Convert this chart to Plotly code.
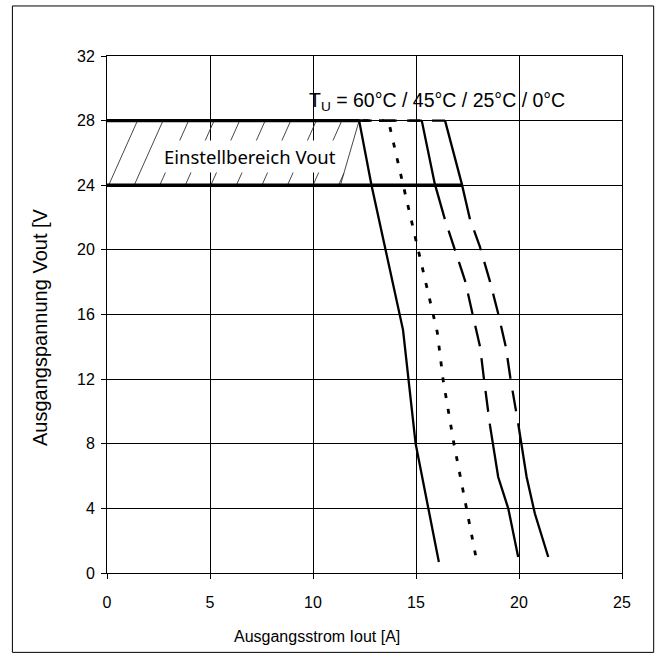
import plotly.graph_objects as go

# ---- data ----
# output current Iout [A] vs output voltage Vout [V] for four ambient temperatures
I_60 = [0, 12.24, 12.84, 14.37, 14.98, 16.11]
U_60 = [28, 28, 24.0, 15.05, 8.02, 0.68]

I_45 = [0, 13.66, 14.38, 15.11, 16.03, 16.32, 16.84, 17.94]
U_45 = [28, 28, 24.0, 20.0, 14.92, 11.93, 8.01, 0.79]

I_25 = [0, 15.28, 15.91, 16.40, 16.89, 17.38, 17.75, 18.11, 18.30, 18.59, 18.99, 19.48, 19.96]
U_25 = [28, 28, 24.1, 21.9, 20.0, 18.1, 16.0, 14.0, 12.0, 9.15, 5.94, 3.99, 0.99]

I_0 = [0, 16.41, 17.22, 17.62, 18.10, 18.59, 18.99, 19.36, 19.59, 19.96, 20.37, 20.77, 21.42]
U_0 = [28, 28, 24.1, 21.9, 20.2, 18.05, 16.06, 14.0, 12.0, 9.25, 5.94, 3.68, 0.99]

# adjustment range (Einstellbereich)
range_U = [24, 28]
range_I_end = [17.22, 12.24]          # end of the 24 V line, end of the 28 V line
hatch_I = [0, 11.33, 12.24, 0]
hatch_U = [24, 24, 28, 28]
hatch_first = 0.08
hatch_step = 1.24
hatch_shift = 1.4

x_ticks = [0, 5, 10, 15, 20, 25]
y_ticks = [0, 4, 8, 12, 16, 20, 24, 28, 32]

label_temp = "T<sub>U</sub> = 60°C / 45°C / 25°C / 0°C"
label_range = "Einstellbereich Vout"
x_title = "Ausgangsstrom Iout [A]"
y_title = "Ausgangspannung Vout [V"

# ---- figure ----
fig = go.Figure()

# hatch lines inside the adjustment polygon
u0, u1 = hatch_U[0], hatch_U[2]
ex0, ex1 = hatch_I[1], hatch_I[2]
hx, hy = [], []
k = 0
while True:
    xb = hatch_first + k * hatch_step
    if xb >= ex0:
        break
    t0 = max(0.0, -xb / hatch_shift)
    t1 = 1.0
    if hatch_shift > (ex1 - ex0):
        t1 = min(1.0, (ex0 - xb) / (hatch_shift - (ex1 - ex0)))
    if t1 > t0:
        hx += [xb + hatch_shift * t0, xb + hatch_shift * t1, None]
        hy += [u0 + (u1 - u0) * t0, u0 + (u1 - u0) * t1, None]
    k += 1
fig.add_trace(go.Scatter(x=hx, y=hy, mode="lines",
                         line=dict(color="#333", width=0.9), hoverinfo="skip"))
fig.add_trace(go.Scatter(x=hatch_I[1:3], y=hatch_U[1:3], mode="lines",
                         line=dict(color="#333", width=0.9), hoverinfo="skip"))

# range boundary lines
for u, xe in zip(range_U, range_I_end):
    fig.add_trace(go.Scatter(x=[0, xe], y=[u, u], mode="lines",
                             line=dict(color="black", width=3.3), hoverinfo="skip"))

lw = 2.3
# 60 °C solid
fig.add_trace(go.Scatter(x=I_60, y=U_60, mode="lines",
                         line=dict(color="black", width=lw)))
# 45 °C dotted
fig.add_trace(go.Scatter(x=I_45, y=U_45, mode="lines",
                         line=dict(color="black", width=2.8, dash="5px,11px")))

# 25 °C and 0 °C dashed (pattern restarts per segment)
def add_dashed_curve(I, U, i_top, i_bot):
    fig.add_trace(go.Scatter(x=I[1::-1], y=U[1::-1], mode="lines",
                             line=dict(color="black", width=lw, dash="13px,12px")))
    fig.add_trace(go.Scatter(x=I[1:i_top + 1], y=U[1:i_top + 1], mode="lines",
                             line=dict(color="black", width=lw)))
    fig.add_trace(go.Scatter(x=I[i_top:i_bot + 1], y=U[i_top:i_bot + 1], mode="lines",
                             line=dict(color="black", width=lw, dash="0px,12px,21px,0px")))
    fig.add_trace(go.Scatter(x=I[i_bot:], y=U[i_bot:], mode="lines",
                             line=dict(color="black", width=lw)))

add_dashed_curve(I_25, U_25, 3, 9)
add_dashed_curve(I_0, U_0, 3, 9)

fig.add_annotation(x=6.95, y=25.78, text=label_range, showarrow=False,
                   font=dict(family="Noto Sans", size=18.5, color="black"),
                   bgcolor="white", borderpad=3, xanchor="center", yanchor="middle")
fig.add_annotation(x=9.70, y=29.2, text=label_temp, showarrow=False,
                   font=dict(family="Liberation Sans", size=19.5, color="black"),
                   xanchor="left", yanchor="middle")
fig.add_annotation(x=0.407, y=-0.1225, xref="paper", yref="paper", text=x_title,
                   showarrow=False, font=dict(family="Liberation Sans", size=16, color="black"),
                   xanchor="center", yanchor="middle")
fig.add_annotation(x=-0.129, y=0.241, xref="paper", yref="paper", text=y_title,
                   showarrow=False, textangle=-90,
                   font=dict(family="Liberation Sans", size=20, color="black"),
                   xanchor="center", yanchor="bottom")

# outer frame
fig.add_shape(type="rect", xref="paper", yref="paper",
              x0=-0.1837, x1=1.0615, y0=-0.1535, y1=1.0968,
              line=dict(color="black", width=1))

axis_common = dict(showgrid=True, gridcolor="black", gridwidth=1, zeroline=False,
                   showline=True, linecolor="black", linewidth=1, mirror=True,
                   ticks="outside", ticklen=5, tickcolor="black", tickwidth=1,
                   tickfont=dict(family="Liberation Sans", size=16, color="black"))
fig.update_xaxes(range=[0, 25], tickvals=x_ticks, ticklabelstandoff=10, **axis_common)
fig.update_yaxes(range=[0, 32], tickvals=y_ticks, ticklabelstandoff=3, **axis_common)

fig.update_layout(width=659, height=664, autosize=False, showlegend=False,
                  margin=dict(l=106.7, r=36.7, t=56, b=91.3),
                  plot_bgcolor="white", paper_bgcolor="white")

fig.write_html("out.html", config={"displayModeBar": False},
               post_script="document.body.style.margin='0px';document.body.style.overflow='hidden';")
